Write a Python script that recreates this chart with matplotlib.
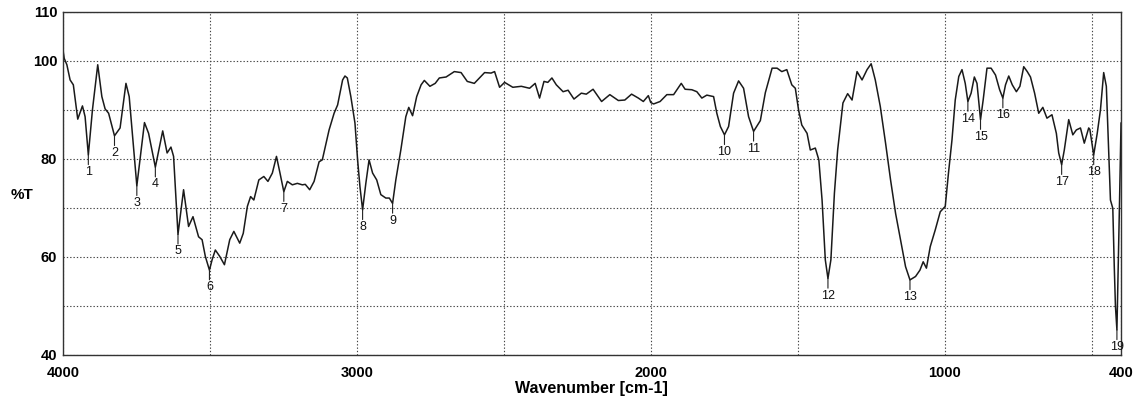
import numpy as np
import matplotlib
matplotlib.use("Agg")
import matplotlib.pyplot as plt

# IR spectrum
wavenumber = [4000, 3995, 3986, 3975, 3964, 3949, 3933, 3924, 3913, 3899, 3881, 3867, 3856, 3844,
              3824, 3805, 3785, 3774, 3748, 3722, 3708, 3685, 3660, 3645, 3632, 3623, 3608, 3589,
              3572, 3557, 3538, 3526, 3515, 3501, 3492, 3481, 3466, 3450, 3432, 3418, 3398, 3386,
              3372, 3361, 3350, 3333, 3316, 3302, 3287, 3273, 3261, 3248, 3236, 3219, 3202, 3185,
              3175, 3160, 3145, 3128, 3117, 3094, 3077, 3065, 3048, 3040, 3032, 3020, 3006, 2997,
              2989, 2980, 2969, 2958, 2946, 2932, 2918, 2901, 2889, 2878, 2867, 2850, 2833, 2823,
              2810, 2796, 2781, 2770, 2751, 2733, 2719, 2696, 2668, 2645, 2624, 2600, 2565, 2543,
              2531, 2514, 2497, 2469, 2440, 2412, 2393, 2378, 2363, 2350, 2336, 2321, 2298, 2281,
              2261, 2236, 2219, 2196, 2167, 2139, 2110, 2088, 2065, 2042, 2025, 2008, 2000, 1990,
              1968, 1945, 1922, 1896, 1883, 1860, 1843, 1826, 1809, 1786, 1775, 1763, 1749, 1735,
              1718, 1701, 1684, 1667, 1650, 1627, 1610, 1587, 1570, 1554, 1537, 1520, 1508, 1497,
              1486, 1468, 1457, 1440, 1428, 1417, 1406, 1397, 1387, 1375, 1364, 1346, 1330, 1315,
              1298, 1281, 1264, 1250, 1236, 1219, 1201, 1184, 1167, 1150, 1133, 1118, 1099, 1084,
              1073, 1062, 1049, 1032, 1015, 998, 987, 975, 964, 952, 941, 930, 921, 910,
              899, 890, 878, 869, 856, 842, 827, 813, 802, 793, 782, 770, 756, 744,
              731, 719, 708, 694, 680, 666, 652, 635, 620, 612, 602, 593, 578, 564,
              552, 538, 525, 510, 506, 493, 481, 470, 459, 450, 442, 436, 428, 423,
              419, 414, 410, 405, 400]
transmittance = [102.5, 100.5, 99.2, 96.1, 95.1, 88.1, 90.8, 88.6, 80.8, 90.0, 99.2, 92.7, 90.2, 89.3,
                 84.7, 86.3, 95.4, 92.7, 74.5, 87.4, 85.2, 78.3, 85.7, 81.2, 82.4, 80.5, 64.6, 73.7,
                 66.2, 68.2, 64.1, 63.5, 60.1, 57.3, 59.4, 61.4, 60.1, 58.4, 63.5, 65.2, 62.8, 64.8,
                 70.3, 72.3, 71.6, 75.7, 76.4, 75.4, 77.1, 80.5, 77.1, 73.3, 75.4, 74.7, 75.0, 74.7,
                 74.8, 73.7, 75.4, 79.4, 79.8, 85.9, 89.3, 91.0, 96.1, 96.9, 96.5, 92.7, 87.3, 79.8,
                 74.3, 69.6, 75.0, 79.8, 77.1, 75.7, 72.7, 72.0, 72.0, 70.9, 75.7, 81.8, 88.6, 90.5,
                 88.8, 92.7, 95.1, 96.0, 94.8, 95.4, 96.5, 96.7, 97.8, 97.6, 95.8, 95.4, 97.6, 97.5,
                 97.8, 94.6, 95.6, 94.6, 94.8, 94.4, 95.4, 92.4, 95.8, 95.6, 96.5, 95.1, 93.7, 94.0,
                 92.2, 93.4, 93.2, 94.2, 91.7, 93.1, 91.9, 92.0, 93.2, 92.4, 91.7, 92.9, 91.5, 91.2,
                 91.7, 93.1, 93.1, 95.4, 94.2, 94.1, 93.7, 92.4, 93.0, 92.7, 89.3, 86.6, 84.9, 86.6,
                 93.4, 95.9, 94.4, 88.6, 85.6, 87.8, 93.5, 98.5, 98.5, 97.8, 98.2, 95.1, 94.4, 90.0,
                 86.9, 85.2, 81.8, 82.2, 79.8, 71.6, 59.4, 55.6, 59.4, 73.0, 81.8, 91.4, 93.3, 92.0,
                 97.8, 96.1, 98.2, 99.4, 96.1, 90.7, 83.2, 75.7, 68.9, 63.5, 58.0, 55.3, 56.0, 57.3,
                 59.0, 57.7, 62.1, 65.5, 69.2, 70.3, 77.1, 83.9, 92.0, 96.8, 98.2, 95.4, 91.7, 93.4,
                 96.7, 95.4, 88.0, 92.0, 98.5, 98.5, 97.1, 94.1, 92.4, 95.1, 96.9, 95.1, 93.7, 94.8,
                 98.8, 97.8, 96.7, 93.4, 89.3, 90.5, 88.3, 89.0, 85.2, 81.2, 78.8, 81.8, 88.0, 84.9,
                 85.9, 86.3, 83.2, 86.3, 86.0, 80.8, 85.2, 90.0, 97.6, 94.8, 81.8, 71.6, 69.9, 58.0,
                 49.9, 45.1, 56.7, 71.6, 87.3]

peak_labels = [str(i) for i in range(1, 20)]
peak_wn = [3913, 3824, 3748, 3685, 3608, 3501, 3248, 2980, 2878, 1749,
           1650, 1397, 1118, 921, 878, 802, 602, 493, 414]
peak_t = [80.8, 84.7, 74.5, 78.3, 64.6, 57.3, 73.3, 69.6, 70.9, 84.9,
          85.6, 55.6, 55.3, 91.7, 88.0, 92.4, 78.8, 80.8, 45.1]

xticks = [4000, 3500, 3000, 2500, 2000, 1500, 1000, 500, 400]
xtick_labels = ['4000', '', '3000', '', '2000', '', '1000', '', '400']
yticks = [40, 50, 60, 70, 80, 90, 100, 110]
ytick_labels = ['40', '', '60', '', '80', '', '100', '110']

plt.rcParams['font.family'] = ['Liberation Sans', 'DejaVu Sans']

fig = plt.figure(figsize=(11.41, 4.07), dpi=100)
ax = fig.add_axes([0.055, 0.128, 0.9275, 0.843])
ax.plot(wavenumber, transmittance, color='#1a1a1a', lw=1.1)

for lab, w, t in zip(peak_labels, peak_wn, peak_t):
    ax.annotate('', xy=(w, t), xytext=(0, -7), textcoords='offset points',
                arrowprops=dict(arrowstyle='-', color='#222222', lw=0.8, shrinkA=0, shrinkB=0))
    ax.annotate(lab, xy=(w, t), xytext=(0, -8), textcoords='offset points',
                ha='center', va='top', fontsize=9, color='#111111')

ax.set_xlim(4000, 400)
ax.set_ylim(40, 110)
ax.set_xticks(xticks)
ax.set_xticklabels(xtick_labels, fontsize=10.5, fontweight='bold')
ax.set_yticks(yticks)
ax.set_yticklabels(ytick_labels, fontsize=10.5, fontweight='bold')
ax.tick_params(axis='x', length=0, pad=8)
ax.tick_params(axis='y', length=0, pad=4)
ax.grid(True, linestyle=(0, (1.2, 1.8)), color='#444444', lw=0.8)
for s in ax.spines.values():
    s.set_color('#333333')
    s.set_linewidth(1.0)

ax.set_xlabel('Wavenumber [cm-1]', fontsize=11.5, fontweight='bold', labelpad=1)
fig.text(0.0195, 0.52, '%T', fontsize=11, fontweight='bold', va='center', ha='center')

plt.savefig('out.png', dpi=100)
